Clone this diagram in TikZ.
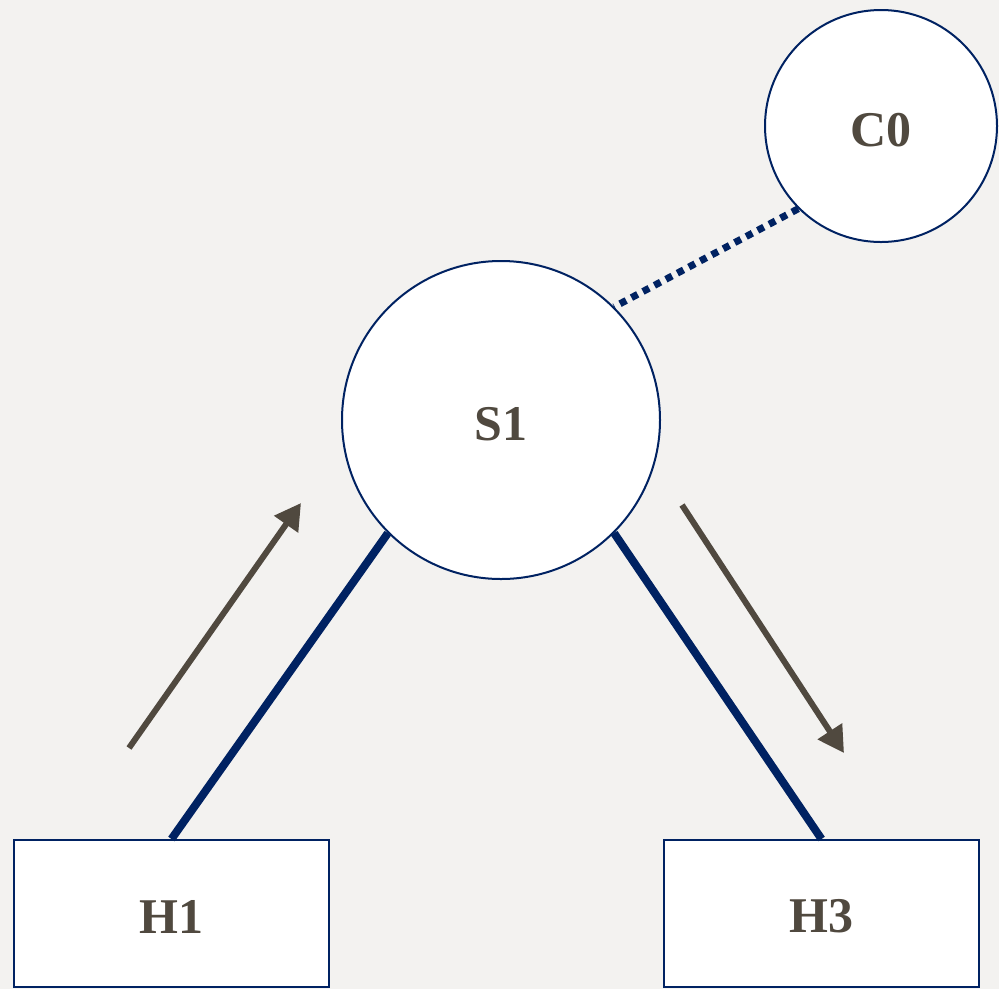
\documentclass[tikz,border=0pt]{standalone}
\usepackage{fontspec}
\setmainfont{Liberation Serif}
\usetikzlibrary{arrows.meta}
\definecolor{paper}{RGB}{243,242,240}
\definecolor{navy}{RGB}{0,34,98}
\definecolor{ink}{RGB}{80,73,63}
\tikzset{
  lbl/.style={font=\fontsize{50}{54}\selectfont\bfseries, text=ink},
  hostbox/.style={draw=navy, line width=2pt, fill=white, minimum width=315pt, minimum height=147pt, inner sep=0pt, lbl},
  ctrlnode/.style={draw=navy, line width=2pt, fill=white, circle, inner sep=0pt, lbl},
  link/.style={draw=navy, line width=8pt},
  ctrllink/.style={draw=navy, line width=7pt, dash pattern=on 7pt off 6pt},
  flow/.style={draw=ink, line width=6pt, -{Triangle[length=26pt,width=28pt]}}
}
\begin{document}
\begin{tikzpicture}[x=1pt,y=-1pt]
  \fill[paper] (0,0) rectangle (999,989);
  \useasboundingbox (0,0) rectangle (999,989);

  % switches, controller and hosts
  \node[ctrlnode, minimum size=232pt] (C0) at (881,126) {};
  \node[ctrlnode, minimum size=318pt] (S1) at (501,420) {};
  \node[hostbox] (H1) at (171.5,913.5) {};
  \node[hostbox] (H3) at (821.5,913.5) {};

  % labels, set slightly below the centres
  \node[lbl] (tC0) at ([yshift=-4pt]C0.center) {C0};
  \node[lbl] (tS1) at ([yshift=-4pt]S1.center) {S1};
  \node[lbl] (tH1) at ([yshift=-3pt]H1.center) {H1};
  \node[lbl] (tH3) at ([yshift=-3pt]H3.center) {H3};

  % links
  \draw[link] (S1.south west) -- (H1.north);
  \draw[link] (S1.south east) -- (H3.north);
  \draw[ctrllink] (C0.south west) -- (S1.north east);

  % traffic direction
  \coordinate (a1s) at (129,748);
  \coordinate (a1e) at (301,503);
  \coordinate (a2s) at (682,505);
  \coordinate (a2e) at (844,753);
  \draw[flow] (a1s) -- (a1e);
  \draw[flow] (a2s) -- (a2e);
\end{tikzpicture}
\end{document}
